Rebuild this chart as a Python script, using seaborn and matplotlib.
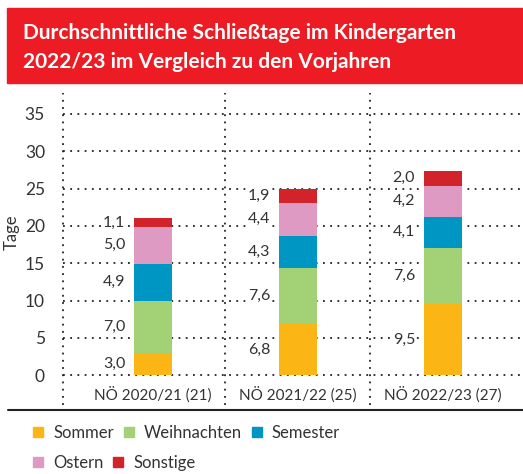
import numpy as np
import matplotlib.pyplot as plt
import matplotlib.patches as mpatches
from matplotlib.lines import Line2D
import seaborn as sns

# Data
categories = ["NÖ 2020/21 (21)", "NÖ 2021/22 (25)", "NÖ 2022/23 (27)"]
series = ["Sommer", "Weihnachten", "Semester", "Ostern", "Sonstige"]
sommer = [3.0, 6.8, 9.5]
weihnachten = [7.0, 7.6, 7.6]
semester = [4.9, 4.3, 4.1]
ostern = [5.0, 4.4, 4.2]
sonstige = [1.1, 1.9, 2.0]
colors = ["#FBB615", "#A3D176", "#0096C3", "#DF9AC3", "#D2232A"]

sns.set_style("white")
plt.rcParams["font.family"] = ["Lato", "DejaVu Sans"]
text_color = "#333333"

fig = plt.figure(figsize=(5.23, 4.74), dpi=100)

# red title box
fig.patches.append(mpatches.Rectangle((7 / 523, 1 - 83 / 474), 1, 75 / 474,
                                      transform=fig.transFigure, color="#ED1C24", zorder=0))
fig.text(23 / 523, 1 - 33 / 474, "Durchschnittliche Schließtage im Kindergarten",
         color="white", fontsize=15, fontweight="bold", va="center", ha="left")
fig.text(23 / 523, 1 - 62 / 474, "2022/23 im Vergleich zu den Vorjahren",
         color="white", fontsize=15, fontweight="bold", va="center", ha="left")

ax = fig.add_axes([63 / 523, 1 - 405 / 474, 458 / 523, 312 / 474])

values = [sommer, weihnachten, semester, ostern, sonstige]
cum = np.cumsum(np.array(values), axis=0)

# stacked bars: draw cumulative totals from top layer down
for k in range(len(series) - 1, -1, -1):
    sns.barplot(x=categories, y=cum[k], order=categories, color=colors[k],
                saturation=1, width=0.26, errorbar=None, linewidth=0, ax=ax)

# value labels to the left of each segment
for k in range(len(series)):
    for i in range(len(categories)):
        base = cum[k][i] - values[k][i]
        ax.text(i - 0.13 - 0.06, base + values[k][i] / 2,
                f"{values[k][i]:.1f}".replace(".", ","),
                ha="right", va="center", fontsize=11.5, color=text_color, zorder=4,
                bbox=dict(facecolor="white", edgecolor="none", pad=0.5))

# category labels inside the axes area
for i, c in enumerate(categories):
    ax.text(i, -2.6, c, ha="center", va="center", fontsize=11, color=text_color)

ax.set_xlim(-0.62, 2.54)
ax.set_ylim(-4.0, 37.8)
ax.set_yticks(range(0, 36, 5))
ax.set_xticks([])
ax.set_xlabel("")
ax.set_ylabel("Tage", fontsize=12, color=text_color)
ax.yaxis.set_label_coords(-0.094, 0.555)
ax.tick_params(axis="y", length=0, pad=13, labelsize=12.5, labelcolor=text_color)
ax.grid(axis="y", color="#222222", linestyle=(0, (1, 3)), linewidth=1.3)
ax.set_axisbelow(True)
for s in ax.spines.values():
    s.set_visible(False)
for xv in [-0.62, 0.5, 1.5]:
    ax.axvline(xv, color="#222222", linestyle=(0, (1, 3)), linewidth=1.3, clip_on=False)

# bottom rule
fig.add_artist(Line2D([8 / 523, 1], [1 - 410 / 474, 1 - 410 / 474],
                      transform=fig.transFigure, color="#222222", linewidth=1.5))

# legend in two rows
handles = [mpatches.Patch(color=c, label=s) for c, s in zip(colors, series)]
leg_kw = dict(frameon=False, fontsize=12, handlelength=0.6, handleheight=0.6,
              handletextpad=0.6, columnspacing=0.6, labelcolor=text_color, loc="center left",
              borderaxespad=0, borderpad=0)
fig.legend(handles=handles[:3], ncol=3, bbox_to_anchor=(33 / 523, 1 - 433 / 474), **leg_kw)
fig.legend(handles=handles[3:], ncol=2, bbox_to_anchor=(33 / 523, 1 - 463 / 474), **leg_kw)

fig.savefig("out.png", dpi=100)
